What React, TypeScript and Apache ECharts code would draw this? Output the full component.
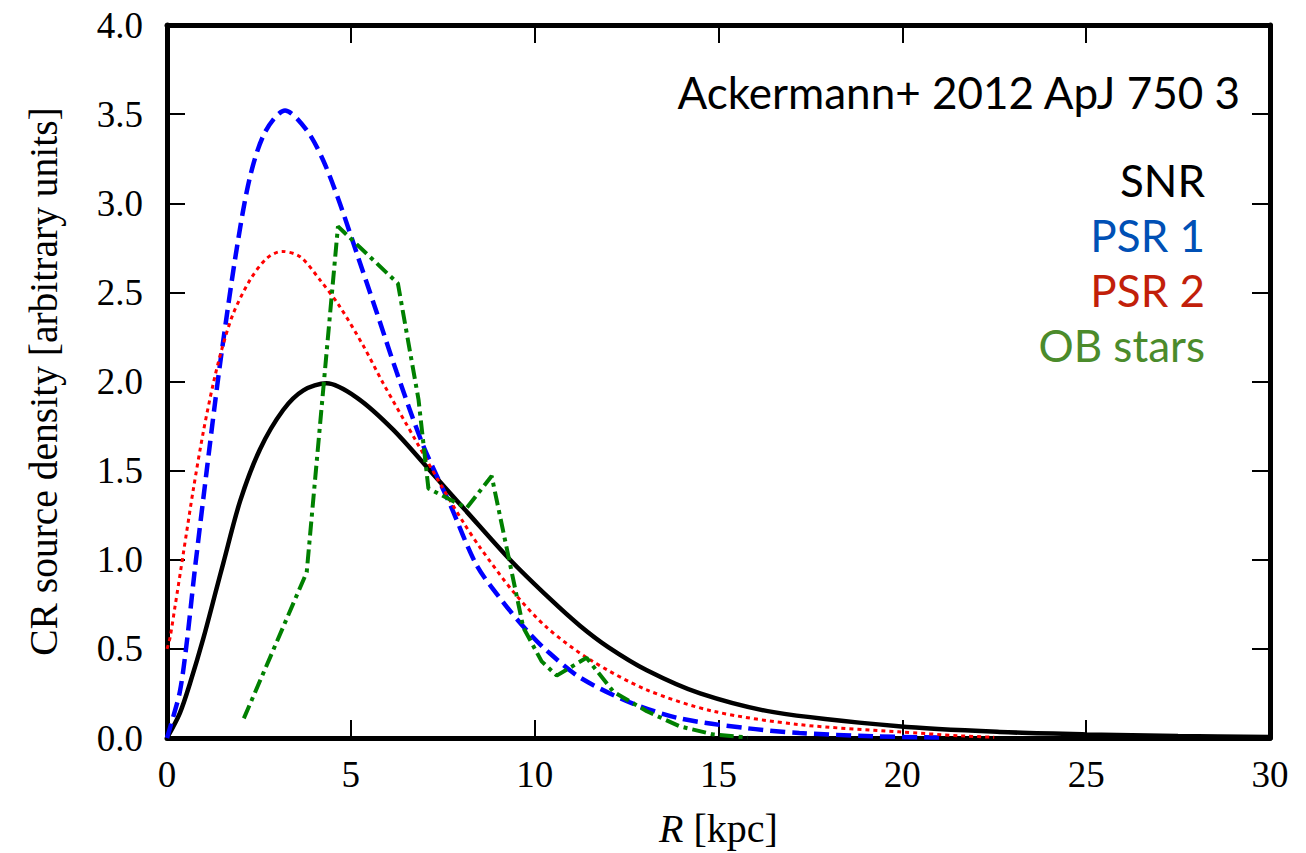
import React, { useEffect, useRef } from "react";
import * as echarts from "echarts";

// ---- Data ----
const snrR = [0, 0.35, 0.63, 0.99, 1.35, 1.53, 1.99, 2.53, 3.16, 3.71, 4.34, 5.16, 6.15, 7.24, 8.15, 9.33, 10.42, 11.23, 12.0, 13.05, 14.5, 16.5, 19.9, 22.65, 25, 27.5, 30];
const snrV = [0, 0.14, 0.31, 0.56, 0.84, 0.98, 1.33, 1.62, 1.84, 1.95, 1.99, 1.91, 1.73, 1.48, 1.27, 1.0, 0.78, 0.63, 0.51, 0.38, 0.25, 0.145, 0.066, 0.034, 0.02, 0.011, 0.006];

const psr1R = [0, 0.1, 0.35, 0.54, 0.76, 1.08, 1.3, 1.49, 1.9, 2.26, 2.67, 3.21, 3.8, 4.25, 4.7, 5.16, 5.7, 6.25, 6.97, 7.7, 8.42, 9.15, 9.8, 10.33, 11.23, 12.59, 13.95, 15.77, 17.2, 19.2, 21];
const psr1V = [0, 0.07, 0.26, 0.54, 0.95, 1.5, 1.87, 2.17, 2.75, 3.15, 3.4, 3.52, 3.41, 3.24, 3.0, 2.72, 2.39, 2.05, 1.64, 1.31, 0.97, 0.76, 0.6, 0.49, 0.34, 0.2, 0.11, 0.055, 0.028, 0.01, 0.003];

const psr2R = [0, 0.08, 0.22, 0.44, 0.72, 0.99, 1.26, 1.49, 1.8, 2.26, 2.71, 3.12, 3.62, 4.16, 4.7, 5.34, 5.88, 6.79, 7.42, 8.06, 8.51, 9.42, 10.33, 11.5, 13.05, 14.86, 17.2, 19.9, 21.6, 22.5];
const psr2V = [0.5, 0.56, 0.74, 1.03, 1.4, 1.72, 1.99, 2.18, 2.38, 2.57, 2.69, 2.73, 2.7, 2.57, 2.42, 2.2, 1.99, 1.66, 1.43, 1.21, 1.07, 0.82, 0.62, 0.44, 0.27, 0.15, 0.075, 0.035, 0.012, 0.004];

const obR = [2.09, 3.8, 4.65, 6.28, 6.84, 7.11, 8.15, 8.83, 9.69, 10.19, 10.6, 11.41, 12.14, 13.05, 13.95, 14.86, 15.8];
const obV = [0.11, 0.93, 2.87, 2.55, 1.9, 1.4, 1.29, 1.47, 0.62, 0.43, 0.35, 0.45, 0.26, 0.15, 0.065, 0.02, 0.003];

const xTicks = [0, 5, 10, 15, 20, 25, 30];
const yTicks = [0, 0.5, 1, 1.5, 2, 2.5, 3, 3.5, 4];

const legendNames = ["SNR", "PSR 1", "PSR 2", "OB stars"];
const legendColors = ["#000000", "#0050b5", "#c21f0a", "#4b8b2b"];
const annotation = "Ackermann+ 2012 ApJ 750 3";

const pairs = (xs: number[], ys: number[]) => xs.map((x, i) => [x, ys[i]]);

export default function App() {
  const ref = useRef<HTMLDivElement>(null);
  useEffect(() => {
    if (!ref.current) return;
    const chart = echarts.init(ref.current, undefined, { renderer: "svg", width: 1306, height: 853 });
    const serif = "'Liberation Serif', 'Times New Roman', serif";
    const sans = "Lato, 'Open Sans', sans-serif";
    const axisCommon = {
      type: "value" as const,
      axisLine: { show: true, onZero: false, lineStyle: { color: "#000", width: 5 } },
      axisTick: { show: true, inside: true, length: 18, lineStyle: { color: "#000", width: 2 } },
      splitLine: { show: false },
    };
    chart.setOption({
      animation: false,
      backgroundColor: "#fff",
      grid: { left: 167, right: 36, top: 25, bottom: 113 },
      xAxis: [
        {
          ...axisCommon,
          min: xTicks[0],
          max: xTicks[xTicks.length - 1],
          interval: 5,
          position: "bottom",
          axisLabel: { show: true, margin: 18, color: "#000", fontFamily: serif, fontSize: 37 },
          name: "{i|R} [kpc]",
          nameLocation: "middle",
          nameGap: 70,
          nameTextStyle: {
            color: "#000",
            fontFamily: serif,
            fontSize: 40,
            rich: { i: { fontStyle: "italic", fontFamily: serif, fontSize: 40, color: "#000" } },
          },
        },
        {
          ...axisCommon,
          min: xTicks[0],
          max: xTicks[xTicks.length - 1],
          interval: 5,
          position: "top",
          axisLabel: { show: false },
        },
      ],
      yAxis: [
        {
          ...axisCommon,
          min: yTicks[0],
          max: yTicks[yTicks.length - 1],
          interval: 0.5,
          position: "left",
          axisLabel: {
            show: true,
            margin: 24,
            color: "#000",
            fontFamily: serif,
            fontSize: 37,
            formatter: (v: number) => v.toFixed(1),
          },
          name: "CR source density [arbitrary units]",
          nameLocation: "middle",
          nameGap: 103,
          nameTextStyle: { color: "#000", fontFamily: serif, fontSize: 39.5 },
        },
        {
          ...axisCommon,
          min: yTicks[0],
          max: yTicks[yTicks.length - 1],
          interval: 0.5,
          position: "right",
          axisLabel: { show: false },
        },
      ],
      series: [
        {
          name: legendNames[0],
          type: "line",
          data: pairs(snrR, snrV),
          showSymbol: false,
          smooth: 0.3,
          lineStyle: { color: "#000", width: 4.5 },
          z: 2,
        },
        {
          name: legendNames[1],
          type: "line",
          data: pairs(psr1R, psr1V),
          showSymbol: false,
          smooth: 0.3,
          lineStyle: { color: "#0000ff", width: 4.5, type: [15, 7], cap: "butt" },
          z: 3,
        },
        {
          name: legendNames[2],
          type: "line",
          data: pairs(psr2R, psr2V),
          showSymbol: false,
          smooth: 0.3,
          lineStyle: { color: "#ff0000", width: 3, type: [4, 4], cap: "butt" },
          z: 4,
        },
        {
          name: legendNames[3],
          type: "line",
          data: pairs(obR, obV),
          showSymbol: false,
          smooth: false,
          lineStyle: { color: "#008000", width: 4, type: [14, 5, 4, 5], cap: "butt" },
          z: 5,
        },
      ],
      graphic: [
        {
          type: "text",
          right: 1306 - 1240,
          top: 70,
          style: { text: annotation, fill: "#000", font: `44px ${sans}`, textAlign: "right" },
        },
        ...legendNames.map((n, i) => ({
          type: "text",
          right: 1306 - 1205,
          top: 158 + i * 55,
          style: { text: n, fill: legendColors[i], font: `44px ${sans}`, textAlign: "right" },
        })),
      ],
    });
    return () => chart.dispose();
  }, []);
  return (
    <div
      ref={ref}
      style={{ position: "absolute", left: 0, top: 0, width: 1306, height: 853, background: "#fff" }}
    />
  );
}
